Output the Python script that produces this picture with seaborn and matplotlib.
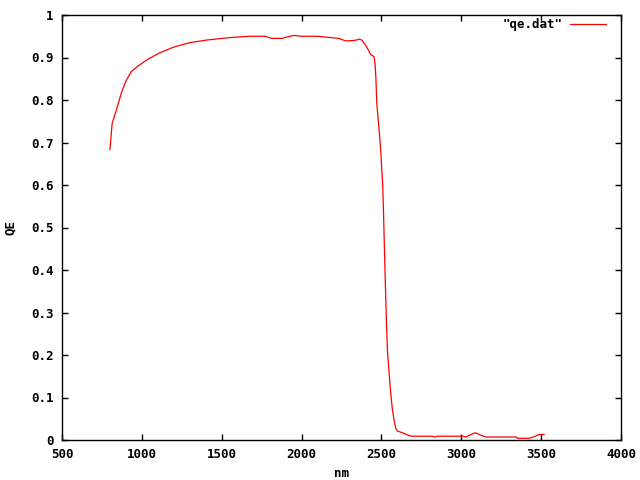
import numpy as np
import pandas as pd
import matplotlib
matplotlib.use("Agg")
import matplotlib.pyplot as plt
import seaborn as sns

# wavelength (nm) and quantum efficiency
nm = [800, 814, 840, 871, 898, 934, 976, 1038, 1112, 1196, 1300, 1405, 1552,
      1678, 1772, 1814, 1877, 1950, 1997, 2097, 2181, 2233, 2276, 2328, 2365,
      2380, 2401, 2416, 2433, 2454, 2460, 2465, 2471, 2479, 2488, 2496, 2502,
      2508, 2513, 2519, 2525, 2532, 2538, 2546, 2554, 2563, 2569, 2579, 2590,
      2601, 2632, 2663, 2684, 2820, 2831, 2852, 3009, 3030, 3061, 3088, 3124,
      3155, 3343, 3353, 3426, 3458, 3489, 3520]
qe = [0.683, 0.745, 0.776, 0.816, 0.843, 0.867, 0.880, 0.896, 0.911, 0.924,
      0.935, 0.941, 0.947, 0.950, 0.950, 0.945, 0.945, 0.952, 0.950, 0.950,
      0.947, 0.945, 0.939, 0.940, 0.943, 0.940, 0.929, 0.919, 0.907, 0.902,
      0.886, 0.855, 0.792, 0.757, 0.718, 0.678, 0.639, 0.600, 0.537, 0.447,
      0.361, 0.271, 0.208, 0.169, 0.129, 0.092, 0.071, 0.047, 0.027, 0.021,
      0.017, 0.012, 0.009, 0.009, 0.007, 0.009, 0.009, 0.007, 0.013, 0.017,
      0.011, 0.007, 0.007, 0.004, 0.004, 0.008, 0.013, 0.013]

xticks = [500, 1000, 1500, 2000, 2500, 3000, 3500, 4000]
yticks = [0, 0.1, 0.2, 0.3, 0.4, 0.5, 0.6, 0.7, 0.8, 0.9, 1]
ylabels = ["0", "0.1", "0.2", "0.3", "0.4", "0.5", "0.6", "0.7", "0.8", "0.9", "1"]

df = pd.DataFrame({"nm": nm, "QE": qe})

sns.set_style("ticks")
plt.rcParams["font.family"] = ["DejaVu Sans Mono", "DejaVu Sans"]
plt.rcParams["font.weight"] = "bold"
plt.rcParams["text.color"] = "black"
plt.rcParams["axes.labelcolor"] = "black"

fig = plt.figure(figsize=(6.4, 4.8), dpi=100)
ax = fig.add_axes([62 / 640, 40 / 480, 559 / 640, 425 / 480])

sns.lineplot(data=df, x="nm", y="QE", color="#ff0000", lw=0.9,
             label='"qe.dat"', ax=ax, sort=False)

ax.set_xlim(500, 4000)
ax.set_ylim(0, 1)
ax.set_xticks(xticks)
ax.set_xticklabels([str(t) for t in xticks])
ax.set_yticks(yticks)
ax.set_yticklabels(ylabels)
ax.tick_params(direction="in", length=4, width=1, top=True, right=True,
               labelsize=9, pad=6, colors="black")
for s in ax.spines.values():
    s.set_visible(True)
    s.set_linewidth(1)
    s.set_color("black")

ax.set_xlabel("nm", fontsize=9, fontweight="bold", labelpad=4)
ax.set_ylabel("QE", fontsize=9, fontweight="bold", labelpad=10)

leg = ax.legend(loc="upper right", frameon=False, markerfirst=False,
                handlelength=2.9, fontsize=9, borderaxespad=0, borderpad=0,
                handletextpad=0.6,
                bbox_to_anchor=((606 - 62) / 559, (440 - 18) / 425))
for t in leg.get_texts():
    t.set_fontweight("bold")
    t.set_color("black")

fig.savefig("out.png", dpi=100)
